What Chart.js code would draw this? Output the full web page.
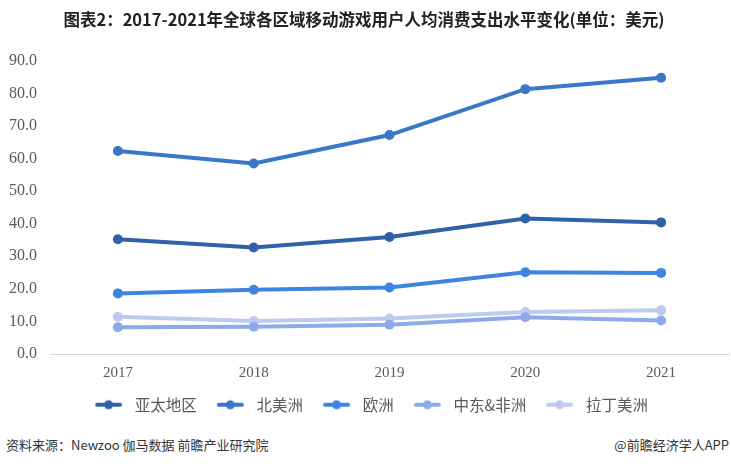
<!DOCTYPE html>
<html><head><meta charset="utf-8">
<script src="https://cdn.jsdelivr.net/npm/chart.js@4/dist/chart.umd.min.js"></script>
<style>
html,body{margin:0;padding:0;background:#fff;}
#wrap{position:relative;width:731px;height:468px;overflow:hidden;}
#c{position:absolute;left:0;top:0;}
.foot{position:absolute;top:435px;font-family:"Noto Sans CJK SC","Noto Sans",sans-serif;font-size:13px;color:#333;}
</style></head>
<body>
<div id="wrap">
<canvas id="c" width="734" height="430"></canvas>
<div class="foot" style="left:6px;">资料来源：Newzoo 伽马数据 前瞻产业研究院</div>
<div class="foot" style="right:2px;">@前瞻经济学人APP</div>
</div>
<script>
const years = ['2017','2018','2019','2020','2021'];
const seriesNames = ['亚太地区','北美洲','欧洲','中东&非洲','拉丁美洲'];
const asiaPacific = [35.2, 32.7, 35.9, 41.6, 40.4];
const northAmerica = [62.3, 58.5, 67.2, 81.3, 84.8];
const europe = [18.6, 19.7, 20.4, 25.1, 24.9];
const meAfrica = [8.2, 8.4, 9.0, 11.3, 10.3];
const latinAmerica = [11.4, 10.1, 10.9, 12.9, 13.4];
const colors = ['#2f62a8','#3977c8','#3d85e0','#8eabe9','#bdcbf1'];
const seriesData = [asiaPacific, northAmerica, europe, meAfrica, latinAmerica];

function legendIcon(color){
  const cv = document.createElement('canvas');
  cv.width = 47; cv.height = 12;
  const g = cv.getContext('2d');
  g.strokeStyle = color; g.lineWidth = 4; g.lineCap='round';
  g.beginPath(); g.moveTo(17,6); g.lineTo(40,6); g.stroke();
  g.fillStyle = color; g.beginPath(); g.arc(28.5,6,4.5,0,Math.PI*2); g.fill();
  return cv;
}

const datasets = seriesNames.map((n,i)=>({
  label:n, data:seriesData[i], borderColor:colors[i], backgroundColor:colors[i],
  borderWidth:4, pointRadius:5, pointHoverRadius:5, pointBackgroundColor:colors[i],
  pointBorderWidth:0, tension:0, fill:false, pointStyle:'circle'
}));

new Chart(document.getElementById('c'),{
  type:'line',
  data:{labels:years, datasets},
  options:{
    responsive:false, animation:false,
    layout:{padding:{left:-4,right:2,top:0,bottom:7.5}},
    plugins:{
      title:{display:true,text:'图表2：2017-2021年全球各区域移动游戏用户人均消费支出水平变化(单位：美元)',
        font:{family:'"Noto Sans CJK SC"',size:16.5,weight:'bold'},color:'#222',padding:{top:10,bottom:31}},
      legend:{position:'bottom',
        labels:{usePointStyle:true,pointStyleWidth:47,
          generateLabels:(chart)=>chart.data.datasets.map((d,i)=>({text:d.label,pointStyle:legendIcon(d.borderColor),
            fillStyle:d.borderColor,strokeStyle:d.borderColor,lineWidth:0,datasetIndex:i,fontColor:'#595959'})),
          font:{family:'"Noto Sans CJK SC"',size:15.5},color:'#595959',padding:5,boxHeight:12}},
      tooltip:{enabled:false}
    },
    scales:{
      x:{offset:true,grid:{display:false,drawTicks:false},border:{display:true,color:'#d9d9d9',width:1},
        ticks:{font:{family:'"Liberation Serif"',size:15},color:'#595959',padding:10}},
      y:{min:0,max:90,grid:{display:false,drawTicks:false},border:{display:false},
        ticks:{stepSize:10,font:{family:'"Liberation Serif"',size:16},color:'#595959',padding:13,
          callback:(v)=>v.toFixed(1)}}
    }
  }
});
</script>
</body></html>
